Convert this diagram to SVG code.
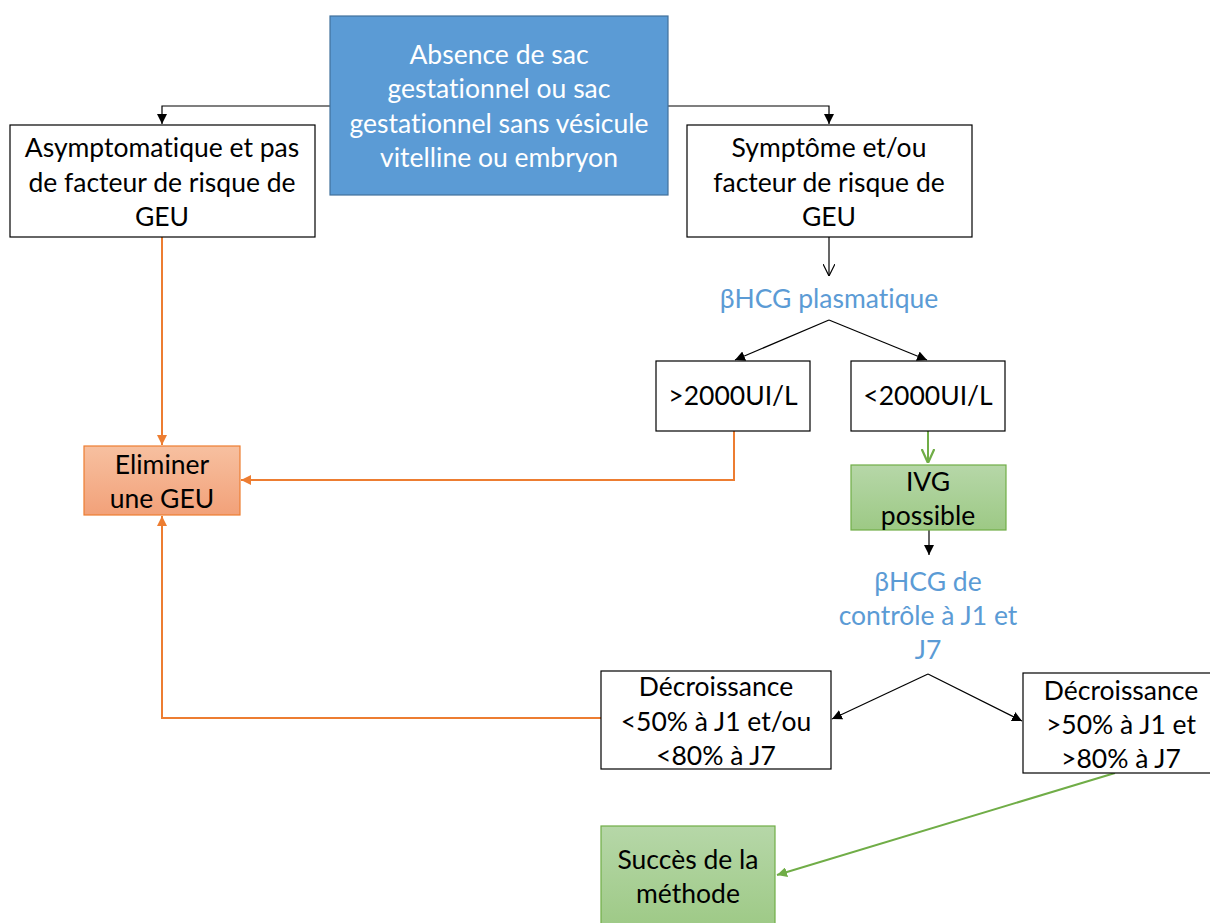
<svg xmlns="http://www.w3.org/2000/svg" width="1210" height="923" viewBox="0 0 1210 923">
<defs>
<linearGradient id="gGreen" x1="0" y1="0" x2="0" y2="1"><stop offset="0" stop-color="#b6d7a8"/><stop offset="1" stop-color="#9dc985"/></linearGradient>
<linearGradient id="gOrange" x1="0" y1="0" x2="0" y2="1"><stop offset="0" stop-color="#f7c0a0"/><stop offset="1" stop-color="#f2a179"/></linearGradient>
<marker id="aBlk" viewBox="0 0 10 10" refX="10" refY="5" markerWidth="10" markerHeight="10" markerUnits="userSpaceOnUse" orient="auto"><path d="M0,0 L10,5 L0,10 z" fill="#000"/></marker>
<marker id="aOpen" viewBox="0 0 10 10" refX="10" refY="5" markerWidth="12" markerHeight="12" markerUnits="userSpaceOnUse" orient="auto"><path d="M0,0 L10,5 L0,10" fill="none" stroke="#000" stroke-width="1"/></marker>
<marker id="aGreenOpen" viewBox="0 0 10 10" refX="10" refY="5" markerWidth="14" markerHeight="14" markerUnits="userSpaceOnUse" orient="auto"><path d="M0,0.5 L10,5 L0,9.5" fill="none" stroke="#70ad47" stroke-width="1.6"/></marker>
<marker id="aGreen" viewBox="0 0 10 10" refX="10" refY="5" markerWidth="10" markerHeight="10" markerUnits="userSpaceOnUse" orient="auto"><path d="M0,0 L10,5 L0,10 z" fill="#70ad47"/></marker>
<marker id="aOrange" viewBox="0 0 10 10" refX="10" refY="5" markerWidth="10" markerHeight="10" markerUnits="userSpaceOnUse" orient="auto"><path d="M0,0 L10,5 L0,10 z" fill="#ed7d31"/></marker>
</defs>
<style>
text{font-family:Lato,"Open Sans","Liberation Sans",sans-serif;font-size:26.5px;text-anchor:middle;fill:#000;font-variant-ligatures:none}
.w{fill:#fff}
.b{fill:#5b9bd5}
.box{fill:#fff;stroke:#000;stroke-width:1.2}
.blk{fill:none;stroke:#000;stroke-width:1.2}
.grn{fill:none;stroke:#70ad47;stroke-width:2}
.org{fill:none;stroke:#ed7d31;stroke-width:2}
</style>
<rect width="1210" height="923" fill="#fff"/>
<g id="connectors">
<path class="blk" d="M330,106 H162 V124" marker-end="url(#aBlk)"/>
<path class="blk" d="M668,106 H829 V124" marker-end="url(#aBlk)"/>
<path class="blk" d="M829,237 V276" marker-end="url(#aOpen)"/>
<path class="blk" d="M829,320 L735,360" marker-end="url(#aBlk)"/>
<path class="blk" d="M829,320 L927,360" marker-end="url(#aBlk)"/>
<path class="grn" d="M928,431 V463" marker-end="url(#aGreenOpen)"/>
<path class="blk" d="M929,530 V555" marker-end="url(#aBlk)"/>
<path class="blk" d="M928,674 L832,719" marker-end="url(#aBlk)"/>
<path class="blk" d="M928,674 L1022,721" marker-end="url(#aBlk)"/>
<path class="grn" d="M1115,773 L777,875" marker-end="url(#aGreen)"/>
<path class="org" d="M162,237 V445" marker-end="url(#aOrange)"/>
<path class="org" d="M734,431 V480 H241" marker-end="url(#aOrange)"/>
<path class="org" d="M601,718 H162 V516" marker-end="url(#aOrange)"/>
</g>
<g id="n-absence">
<rect x="330" y="16" width="338" height="179" fill="#5b9bd5" stroke="#41719c" stroke-width="1.2"/>
<text class="w" x="499" y="64">Absence de sac</text>
<text class="w" x="499" y="98">gestationnel ou sac</text>
<text class="w" x="499" y="133">gestationnel sans vésicule</text>
<text class="w" x="499" y="167">vitelline ou embryon</text>
</g>
<g id="n-asympto">
<rect class="box" x="10" y="125" width="305" height="112"/>
<text x="162" y="157">Asymptomatique et pas</text>
<text x="162" y="192">de facteur de risque de</text>
<text x="162" y="226">GEU</text>
</g>
<g id="n-sympto">
<rect class="box" x="687" y="125" width="285" height="112"/>
<text x="829" y="157">Symptôme et/ou</text>
<text x="829" y="192">facteur de risque de</text>
<text x="829" y="226">GEU</text>
</g>
<g id="n-bhcg">
<text class="b" x="829" y="308">βHCG plasmatique</text>
</g>
<g id="n-sup2000">
<rect class="box" x="656" y="361" width="154" height="70"/>
<text x="733" y="405">&gt;2000UI/L</text>
</g>
<g id="n-inf2000">
<rect class="box" x="851" y="361" width="154" height="70"/>
<text x="928" y="405">&lt;2000UI/L</text>
</g>
<g id="n-ivg">
<rect x="851" y="465" width="155" height="65" fill="url(#gGreen)" stroke="#70ad47" stroke-width="1.2"/>
<text x="928" y="491">IVG</text>
<text x="928" y="525">possible</text>
</g>
<g id="n-controle">
<text class="b" x="928" y="591">βHCG de</text>
<text class="b" x="928" y="625">contrôle à J1 et</text>
<text class="b" x="928" y="659">J7</text>
</g>
<g id="n-eliminer">
<rect x="84" y="446" width="156" height="69" fill="url(#gOrange)" stroke="#ed7d31" stroke-width="1.2"/>
<text x="162" y="474">Eliminer</text>
<text x="162" y="508">une GEU</text>
</g>
<g id="n-dec1">
<rect class="box" x="601" y="671" width="230" height="98"/>
<text x="716" y="696">Décroissance</text>
<text x="716" y="731">&lt;50% à J1 et/ou</text>
<text x="716" y="765">&lt;80% à J7</text>
</g>
<g id="n-dec2">
<rect class="box" x="1023" y="673" width="195" height="100"/>
<text x="1121" y="700">Décroissance</text>
<text x="1121" y="734">&gt;50% à J1 et</text>
<text x="1121" y="768">&gt;80% à J7</text>
</g>
<g id="n-succes">
<rect x="601" y="826" width="174" height="105" fill="url(#gGreen)" stroke="#70ad47" stroke-width="1.2"/>
<text x="688" y="869">Succès de la</text>
<text x="688" y="903">méthode</text>
</g>
</svg>
